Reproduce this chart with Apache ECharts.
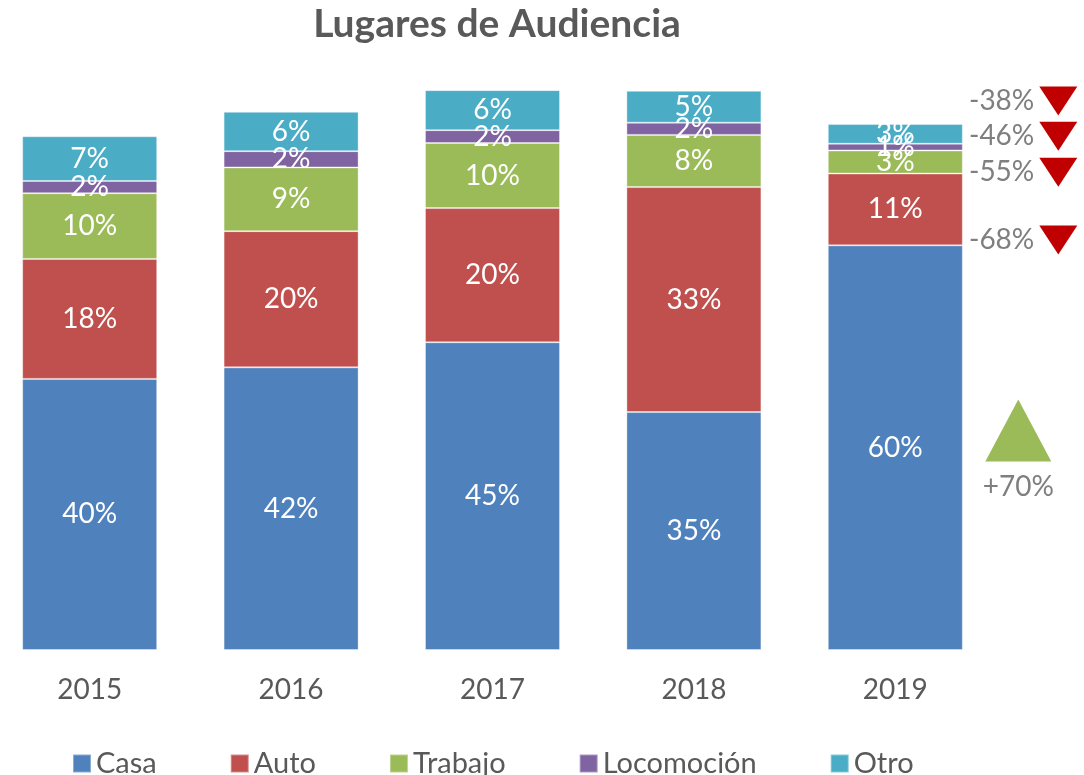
<!DOCTYPE html>
<html>
<head>
<meta charset="utf-8">
<title>Lugares de Audiencia</title>
<script src="https://cdn.jsdelivr.net/npm/echarts@6/dist/echarts.min.js"></script>
<style>
  html, body { margin: 0; padding: 0; background: #fff; overflow: hidden; }
  /* plot area starts a bit left of the page edge, like the original */
  #chart { position: absolute; left: -11px; top: 0; width: 1095px; height: 775px; }
</style>
</head>
<body>
<div id="chart"></div>
<script>
// años y participación (%) por lugar
const years = ['2015', '2016', '2017', '2018', '2019']
const casa = [40.0, 41.7, 45.4, 35.1, 59.7]
const auto = [17.7, 20.1, 19.8, 33.2, 10.6]
const trabajo = [9.7, 9.4, 9.6, 7.7, 3.4]
const locomocion = [1.8, 2.4, 1.9, 1.8, 1.0]
const otro = [6.6, 5.8, 5.9, 4.7, 2.9]

// variación 2015-2019, anotada junto a la última barra
const changeLabels = ['+70%', '-68%', '-55%', '-46%', '-38%']
const changeAnchors = [32.4, 60.5, 70.5, 75.8, 81.0]

const font = 'Lato, "Noto Sans", sans-serif'
const grey = '#595959'

const seriesDefs = [
  { name: 'Casa', data: casa, color: '#4F81BD' },
  { name: 'Auto', data: auto, color: '#C0504D' },
  { name: 'Trabajo', data: trabajo, color: '#9BBB59' },
  { name: 'Locomoción', data: locomocion, color: '#8064A2' },
  { name: 'Otro', data: otro, color: '#4BACC6' },
]

const marks = changeLabels.map((txt, i) => {
  const up = txt.startsWith('+')
  return up
    ? {
        coord: ['2019', changeAnchors[i]],
        symbol: 'triangle',
        symbolSize: [66, 62],
        symbolOffset: [123, 0],
        itemStyle: { color: '#9BBB59' },
        label: { show: true, formatter: txt, position: 'bottom', distance: 12, color: '#7F7F7F', fontSize: 28, fontFamily: font },
      }
    : {
        coord: ['2019', changeAnchors[i]],
        symbol: 'triangle',
        symbolRotate: 180,
        symbolSize: [38, 29],
        symbolOffset: [163, 0],
        itemStyle: { color: '#C00000' },
        label: { show: true, formatter: txt, position: 'left', distance: 5, color: '#7F7F7F', fontSize: 28, fontFamily: font },
      }
})

const chart = echarts.init(document.getElementById('chart'))
chart.setOption({
  animation: false,
  title: {
    text: 'Lugares de Audiencia',
    left: 503,
    textAlign: 'center',
    top: 0,
    textStyle: { fontFamily: font, fontWeight: 'bold', fontSize: 39, color: grey },
  },
  legend: {
    bottom: -8,
    left: 78,
    itemWidth: 18,
    itemHeight: 18,
    itemGap: 73,
    icon: 'rect',
    textStyle: { fontFamily: font, fontSize: 29, color: grey },
    data: seriesDefs.map(s => s.name),
  },
  grid: { left: 0, right: 88, top: 40, bottom: 125 },
  xAxis: {
    type: 'category',
    data: years,
    axisLine: { show: false },
    axisTick: { show: false },
    axisLabel: { fontFamily: font, fontSize: 28, color: grey, margin: 26 },
  },
  yAxis: { type: 'value', min: 0, max: 90, show: false, splitLine: { show: false } },
  series: seriesDefs.map((s, idx) => ({
    name: s.name,
    type: 'bar',
    stack: 'total',
    barWidth: 135,
    data: s.data,
    itemStyle: { color: s.color, borderColor: 'rgba(255,255,255,0.35)', borderWidth: 1 },
    label: {
      show: true,
      position: 'inside',
      color: '#fff',
      fontFamily: font,
      fontSize: 28,
      formatter: p => Math.round(p.value) + '%',
    },
    markPoint: idx === 0 ? { silent: true, data: marks } : undefined,
  })),
})
</script>
</body>
</html>
